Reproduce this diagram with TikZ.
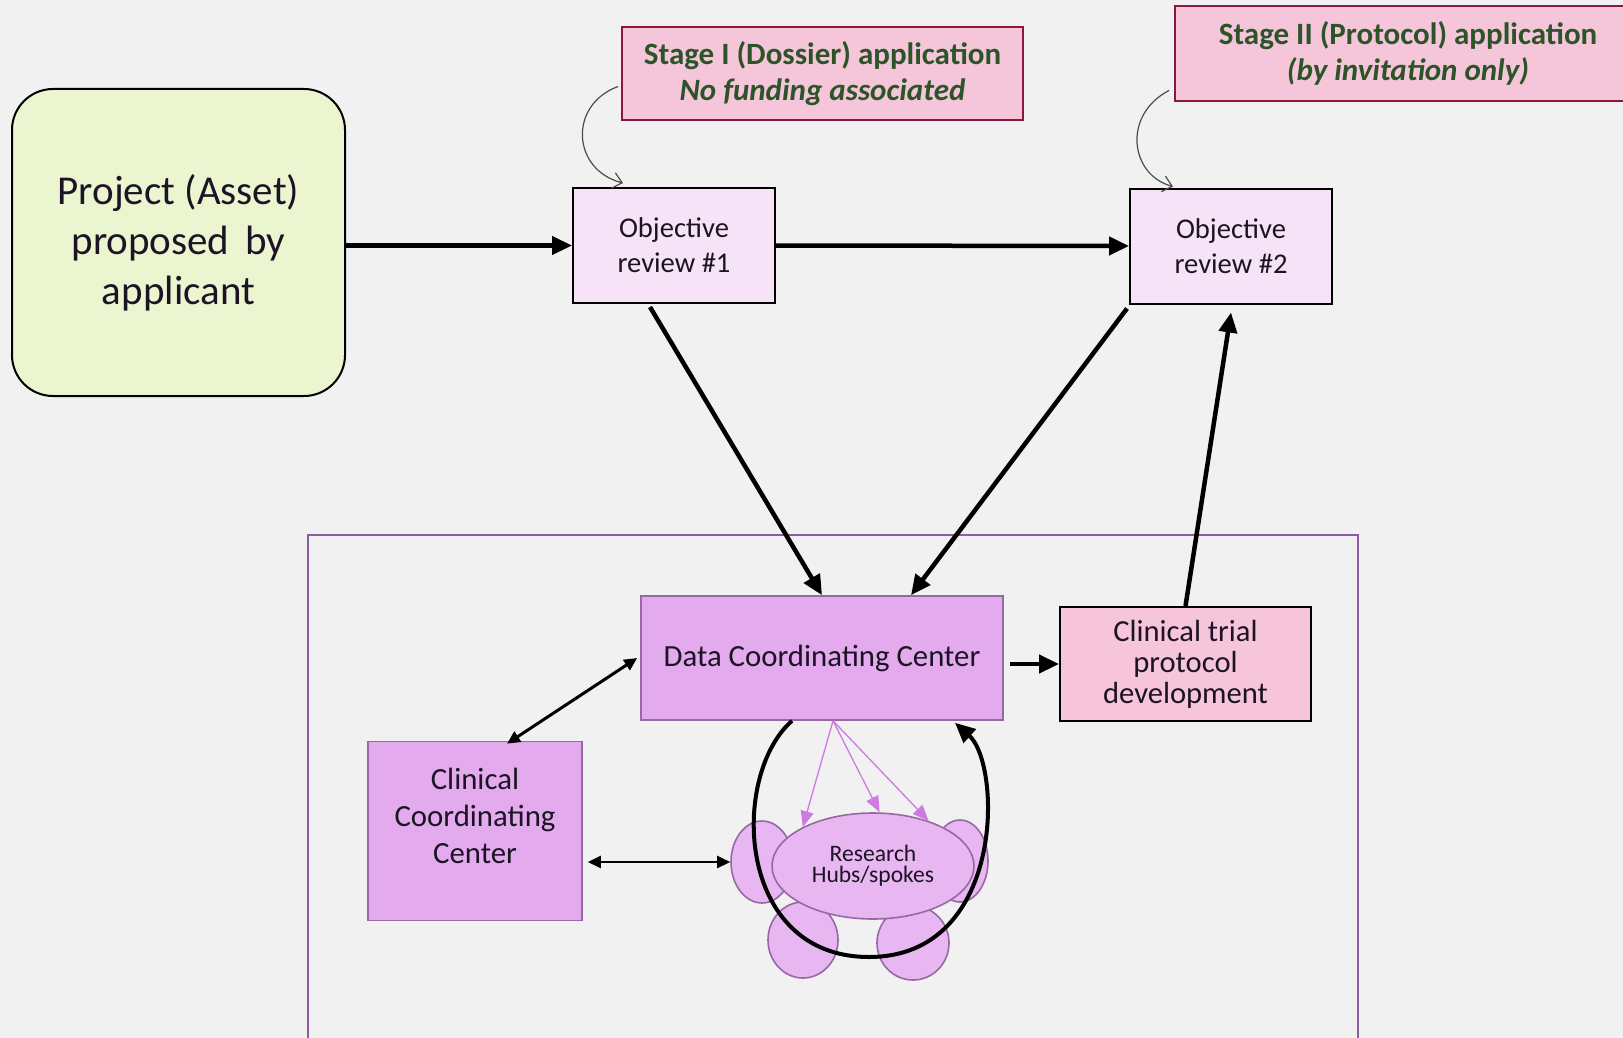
\documentclass[tikz,border=0pt]{standalone}
\usepackage{fontspec}
\setmainfont{Carlito}
\usepackage{tikz}
\usetikzlibrary{positioning, arrows.meta, shapes.geometric, calc}

\definecolor{slidebg}{RGB}{241,241,241}
\definecolor{inkdark}{RGB}{28,20,36}
\definecolor{leafgreen}{RGB}{235,245,208}
\definecolor{reviewpink}{RGB}{247,227,247}
\definecolor{stagepink}{RGB}{245,198,218}
\definecolor{stageedge}{RGB}{140,22,62}
\definecolor{stagetext}{RGB}{44,84,40}
\definecolor{orchid}{RGB}{227,170,237}
\definecolor{orchidedge}{RGB}{150,105,165}
\definecolor{hubfill}{RGB}{232,182,240}
\definecolor{framepurple}{RGB}{142,92,162}
\definecolor{fanpurple}{RGB}{205,122,225}
\definecolor{trialpink}{RGB}{247,197,218}

\begin{document}
\begin{tikzpicture}[x=1pt, y=1pt,
  every node/.style={text=inkdark, align=center, inner sep=2pt},
  project/.style={draw, line width=2pt, fill=leafgreen, rounded corners=41pt, minimum width=333pt, minimum height=307pt, font=\fontsize{41}{50}\selectfont},
  review/.style={draw, line width=2pt, fill=reviewpink, minimum width=202pt, minimum height=115pt, font=\fontsize{28.6}{35}\selectfont},
  stagebox/.style={draw=stageedge, line width=2pt, fill=stagepink, text=stagetext, font=\bfseries\fontsize{31}{36}\selectfont},
  center/.style={draw=orchidedge, line width=1.6pt, fill=orchid, font=\fontsize{30.8}{37}\selectfont},
  trialbox/.style={draw, line width=2pt, fill=trialpink, minimum width=251pt, minimum height=114pt, font=\fontsize{30.6}{31}\selectfont},
  hub/.style={ellipse, draw=orchidedge, line width=1.6pt, fill=hubfill, minimum width=202pt, minimum height=106pt, inner sep=0pt, font=\fontsize{23.6}{20.7}\selectfont},
  petal/.style={ellipse, draw=orchidedge, line width=1.6pt, fill=hubfill, inner sep=0pt},
  flowarr/.style={-{Triangle[length=20pt, width=18pt]}, line width=4.5pt},
  duoarr/.style={{Triangle[length=13pt, width=12pt]}-{Triangle[length=13pt, width=12pt]}, line width=3pt},
  notearr/.style={-{Straight Barb[length=9pt, width=16pt]}, line width=1.2pt, color=black!70},
  fanarr/.style={-{Triangle[length=16pt, width=13pt]}, line width=1.3pt, color=fanpurple},
]
% page and background
\useasboundingbox (0,0) rectangle (1623,-1038);
\fill[slidebg] (0,0) rectangle (1623,-1038);

% frame round the network
\draw[framepurple, line width=2pt] (308,-535) rectangle (1358,-1070);

% application stages
\node[project] (proj) at (178.5,-242.5) {Project (Asset)\\proposed\, by\\applicant};
\node[review] (obj1) at (674,-245.5) {Objective\\review \#1};
\node[review] (obj2) at (1231,-246) {Objective\\review \#2};
\node[stagebox, minimum width=401pt, minimum height=93pt] (st1) at (822.5,-73.5)
  {Stage I (Dossier) application\\\textit{No funding associated}};
\node[stagebox, minimum width=466pt, minimum height=95pt] (st2) at (1408,-53.5)
  {Stage II (Protocol) application\\\textit{(by invitation only)}};

% network centres
\node[center, minimum width=362pt, minimum height=124pt] (dcc) at (822,-658) {Data Coordinating Center};
\node[trialbox] (ctpd) at (1185.5,-664) {Clinical trial\\protocol\\development};
\node[center, minimum width=214pt, minimum height=179pt] (ccc) at (475,-831) {Clinical\\Coordinating\\Center\\[-6pt]\mbox{}};

% hubs and spokes
\node[petal, minimum width=62pt, minimum height=82pt] (pl) at (762,-862) {};
\node[petal, minimum width=56pt, minimum height=82pt] (pr) at (960,-861) {};
\node[petal, minimum width=70pt, minimum height=76pt] (pbl) at (803,-940) {};
\node[petal, minimum width=72pt, minimum height=74pt] (pbr) at (913,-943) {};
\node[hub] (hub) at (873,-866) {Research\\Hubs/spokes};

% connectors
\draw[notearr] ($(st1.west)+(-3,-13)$) .. controls (568,-105) and (572,-170) .. ($(obj1.north west)+(51,4)$);
\draw[notearr] ($(st2.west)+(-5,-37)$) .. controls (1122,-115) and (1130,-175) .. ($(obj2.north west)+(44,1)$);
\draw[flowarr] (proj.east |- obj1.west) -- (obj1.west);
\draw[flowarr] (obj1.east) -- (obj2.west);
\draw[flowarr] ($(obj1.south)+(-24,-3)$) -- (dcc.north);
\draw[flowarr] ($(obj2.south west)+(-2,-4)$) -- ($(dcc.north)+(89,0)$);
\draw[flowarr] (ctpd.north) -- ($(obj2.south)+(0,-8)$);
\draw[flowarr] ($(dcc.east |- ctpd.west)+(6,0)$) -- (ctpd.west);
\draw[duoarr] ($(dcc.west)+(-3,0)$) -- ($(ccc.north)+(32,-3)$);
\draw[duoarr, line width=2.5pt] ($(ccc.east |- pl.west)+(5,0)$) -- (pl.west);
\foreach \ang in {151,83,39}
  \draw[fanarr] ($(dcc.south)+(11,0)$) -- (hub.\ang);
\draw[flowarr, line width=4pt] ($(dcc.south)+(-30,0)$) .. controls (730,-775) and (735,-957) .. (869,-957)
  .. controls (1005,-957) and (1002,-765) .. ($(dcc.south)+(133,-2)$);
\end{tikzpicture}
\end{document}
